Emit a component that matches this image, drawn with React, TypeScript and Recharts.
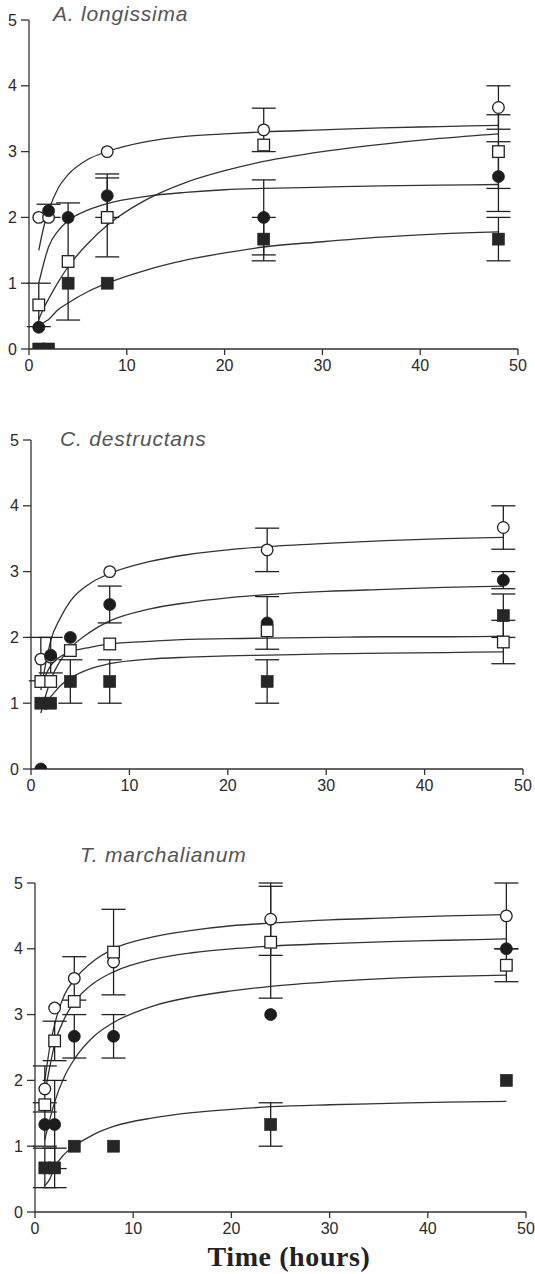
import React from 'react';
import { ComposedChart, Line, Scatter, XAxis, YAxis, ErrorBar } from 'recharts';

// ---- shared axes / categories ----
const times = [1, 2, 4, 8, 24, 48];
const fitTimes = [1, 1.5, 2, 3, 4, 6, 8, 12, 16, 20, 24, 30, 36, 42, 48];
const xTicks = [0, 10, 20, 30, 40, 50];
const yTicks = [0, 1, 2, 3, 4, 5];
const panelTitles = ['A. longissima', 'C. destructans', 'T. marchalianum'];
const xAxisTitle = 'Time (hours)';

// ---- Panel A: A. longissima ----
const aOpenCircle = [2.0, 2.0, null, 3.0, 3.33, 3.67];
const aOpenCircleErr = [0, 0, 0, 0, 0.33, 0.33];
const aFilledCircle = [0.33, 2.1, 2.0, 2.33, 2.0, 2.62];
const aFilledCircleErr = [0, 0.1, 0, 0.33, 0.57, 0.53];
const aOpenSquare = [0.67, null, 1.33, 2.0, 3.1, 3.0];
const aOpenSquareErr = [0.33, 0, 0.89, 0.6, 0, 0.56];
const aFilledSquare = [0, 0, 1.0, 1.0, 1.67, 1.67];
const aFilledSquareErr = [0, 0, 0, 0, 0.33, 0.33];
const aOpenCircleFit = [1.5, 1.85, 2.1, 2.45, 2.65, 2.88, 3.0, 3.15, 3.23, 3.27, 3.3, 3.33, 3.36, 3.38, 3.4];
const aFilledCircleFit = [1.0, 1.3, 1.55, 1.8, 1.95, 2.11, 2.21, 2.32, 2.38, 2.42, 2.44, 2.46, 2.48, 2.49, 2.5];
const aOpenSquareFit = [0.45, 0.62, 0.76, 1.02, 1.25, 1.6, 1.88, 2.27, 2.53, 2.71, 2.85, 3.0, 3.11, 3.2, 3.27];
const aFilledSquareFit = [0.33, 0.4, 0.45, 0.6, 0.7, 0.87, 1.0, 1.2, 1.35, 1.46, 1.55, 1.63, 1.7, 1.75, 1.78];

// ---- Panel B: C. destructans ----
const bOpenCircle = [1.67, 1.7, null, 3.0, 3.33, 3.67];
const bOpenCircleErr = [0.33, 0, 0, 0, 0.33, 0.33];
const bFilledCircle = [0, 1.73, 2.0, 2.5, 2.22, 2.87];
const bFilledCircleErr = [0, 0.27, 0, 0.28, 0.4, 0.13];
const bOpenSquare = [1.33, 1.33, 1.8, 1.9, 2.1, 1.93];
const bOpenSquareErr = [0, 0, 0, 0, 0, 0.33];
const bFilledSquare = [1.0, 1.0, 1.33, 1.33, 1.33, 2.33];
const bFilledSquareErr = [0, 0, 0.33, 0.33, 0.33, 0.33];
const bOpenCircleFit = [1.2, 1.6, 1.95, 2.3, 2.55, 2.82, 2.97, 3.15, 3.26, 3.33, 3.38, 3.43, 3.47, 3.5, 3.52];
const bFilledCircleFit = [0.85, 1.12, 1.35, 1.65, 1.84, 2.08, 2.25, 2.43, 2.53, 2.6, 2.65, 2.7, 2.73, 2.76, 2.78];
const bOpenSquareFit = [1.25, 1.43, 1.57, 1.71, 1.78, 1.85, 1.9, 1.94, 1.97, 1.98, 1.99, 2.0, 2.01, 2.01, 2.02];
const bFilledSquareFit = [0.95, 1.03, 1.1, 1.27, 1.38, 1.52, 1.6, 1.67, 1.7, 1.72, 1.73, 1.75, 1.76, 1.77, 1.78];

// ---- Panel C: T. marchalianum ----
const cOpenCircle = [1.87, 3.1, 3.55, 3.8, 4.45, 4.5];
const cOpenCircleErr = [0.35, 0, 0.33, 0, 0.55, 0.5];
const cFilledCircle = [1.33, 1.33, 2.67, 2.67, 3.0, 4.0];
const cFilledCircleErr = [0.33, 0.67, 0.33, 0.33, 0, 0];
const cOpenSquare = [1.63, 2.6, 3.2, 3.95, 4.1, 3.75];
const cOpenSquareErr = [0, 0.3, 0, 0.65, 0.85, 0.25];
const cFilledSquare = [0.67, 0.67, 1.0, 1.0, 1.33, 2.0];
const cFilledSquareErr = [0.3, 0.3, 0, 0, 0.33, 0];
const cOpenCircleFit = [2.0, 2.5, 2.85, 3.3, 3.53, 3.82, 4.0, 4.18, 4.28, 4.35, 4.39, 4.44, 4.47, 4.5, 4.52];
const cFilledCircleFit = [1.1, 1.4, 1.67, 2.06, 2.32, 2.67, 2.88, 3.13, 3.27, 3.36, 3.43, 3.5, 3.55, 3.58, 3.6];
const cOpenSquareFit = [1.8, 2.2, 2.55, 2.94, 3.19, 3.48, 3.65, 3.84, 3.94, 4.0, 4.04, 4.08, 4.11, 4.13, 4.15];
const cFilledSquareFit = [0.4, 0.5, 0.68, 0.88, 1.0, 1.18, 1.3, 1.43, 1.51, 1.56, 1.6, 1.63, 1.65, 1.67, 1.68];

type Kind = 'oc' | 'fc' | 'os' | 'fs';
type Series = { kind: Kind; vals: (number | null)[]; errs: number[]; fit: number[] };

const panels: { title: string; series: Series[]; box: [number, number, number, number]; titlePos: [number, number] }[] = [
  {
    title: panelTitles[0],
    box: [29, 20, 518, 349],
    titlePos: [53, 21],
    series: [
      { kind: 'oc', vals: aOpenCircle, errs: aOpenCircleErr, fit: aOpenCircleFit },
      { kind: 'fc', vals: aFilledCircle, errs: aFilledCircleErr, fit: aFilledCircleFit },
      { kind: 'os', vals: aOpenSquare, errs: aOpenSquareErr, fit: aOpenSquareFit },
      { kind: 'fs', vals: aFilledSquare, errs: aFilledSquareErr, fit: aFilledSquareFit },
    ],
  },
  {
    title: panelTitles[1],
    box: [31, 440, 523, 769],
    titlePos: [60, 446],
    series: [
      { kind: 'oc', vals: bOpenCircle, errs: bOpenCircleErr, fit: bOpenCircleFit },
      { kind: 'fc', vals: bFilledCircle, errs: bFilledCircleErr, fit: bFilledCircleFit },
      { kind: 'os', vals: bOpenSquare, errs: bOpenSquareErr, fit: bOpenSquareFit },
      { kind: 'fs', vals: bFilledSquare, errs: bFilledSquareErr, fit: bFilledSquareFit },
    ],
  },
  {
    title: panelTitles[2],
    box: [35, 883, 526, 1212],
    titlePos: [80, 862],
    series: [
      { kind: 'oc', vals: cOpenCircle, errs: cOpenCircleErr, fit: cOpenCircleFit },
      { kind: 'fc', vals: cFilledCircle, errs: cFilledCircleErr, fit: cFilledCircleFit },
      { kind: 'os', vals: cOpenSquare, errs: cOpenSquareErr, fit: cOpenSquareFit },
      { kind: 'fs', vals: cFilledSquare, errs: cFilledSquareErr, fit: cFilledSquareFit },
    ],
  },
];

const INK = '#222';
const AXIS = '#333';
const SANS = '"Liberation Sans", Arial, Helvetica, sans-serif';
const YW = 30;
const MT = 10;
const MR = 10;
const XH = 30;

const pointsOf = (s: Series) =>
  times
    .map((t, i) => ({ x: t, y: s.vals[i], e: s.errs[i] }))
    .filter((p) => p.y !== null && p.y !== undefined);

const fitOf = (s: Series) => fitTimes.map((t, i) => ({ x: t, y: s.fit[i] }));

const Blank = () => <g />;

const makeShape = (kind: Kind) => (p: any) => {
  const { cx, cy } = p;
  if (cx == null || cy == null) return <g />;
  if (kind === 'oc') return <circle cx={cx} cy={cy} r={5.8} fill="#fff" stroke={INK} strokeWidth={1.3} />;
  if (kind === 'fc') return <circle cx={cx} cy={cy} r={6} fill="#1c1c1c" stroke={INK} strokeWidth={0.8} />;
  if (kind === 'os') return <rect x={cx - 5.8} y={cy - 5.8} width={11.6} height={11.6} fill="#fff" stroke={INK} strokeWidth={1.3} />;
  return <rect x={cx - 6} y={cy - 6} width={12} height={12} fill="#262626" stroke={INK} strokeWidth={0.6} />;
};

function Panel({ p }: { p: (typeof panels)[number] }) {
  const [l, t, r, b] = p.box;
  const width = r - l + YW + MR;
  const height = b - t + MT + XH;
  const tickStyle = { fill: '#2a2a2a', fontSize: 16, fontFamily: SANS };
  return (
    <div style={{ position: 'absolute', left: l - YW, top: t - MT }}>
      <ComposedChart width={width} height={height} margin={{ top: MT, right: MR, bottom: 0, left: 0 }}>
        <XAxis
          type="number"
          dataKey="x"
          domain={[0, 50]}
          ticks={xTicks}
          interval={0}
          allowDataOverflow
          height={XH}
          tickSize={6}
          tickMargin={5}
          axisLine={{ stroke: AXIS, strokeWidth: 1.3 }}
          tickLine={{ stroke: AXIS, strokeWidth: 1.3 }}
          tick={tickStyle}
        />
        <YAxis
          type="number"
          dataKey="y"
          domain={[0, 5]}
          ticks={yTicks}
          interval={0}
          allowDataOverflow
          width={YW}
          tickSize={8}
          tickMargin={4}
          axisLine={{ stroke: AXIS, strokeWidth: 1.3 }}
          tickLine={{ stroke: AXIS, strokeWidth: 1.3 }}
          tick={tickStyle}
        />
        {p.series.map((s) => (
          <Line
            key={'fit-' + s.kind}
            data={fitOf(s)}
            dataKey="y"
            type="monotone"
            dot={false}
            activeDot={false}
            stroke={AXIS}
            strokeWidth={1.3}
            isAnimationActive={false}
          />
        ))}
        {p.series.map((s) => (
          <Scatter
            key={'err-' + s.kind}
            data={pointsOf(s).filter((q) => q.e > 0)}
            dataKey="y"
            shape={Blank}
            isAnimationActive={false}
          >
            <ErrorBar dataKey="e" direction="y" width={12} stroke={INK} strokeWidth={1.3} />
          </Scatter>
        ))}
        {p.series.map((s) => (
          <Scatter
            key={'pts-' + s.kind}
            data={pointsOf(s)}
            dataKey="y"
            shape={makeShape(s.kind)}
            isAnimationActive={false}
          />
        ))}
      </ComposedChart>
    </div>
  );
}

export default function App() {
  return (
    <div style={{ position: 'absolute', left: 0, top: 0, width: 535, height: 1274, background: '#fff', overflow: 'hidden' }}>
      {panels.map((p, i) => (
        <Panel key={i} p={p} />
      ))}
      <svg width={535} height={1274} style={{ position: 'absolute', left: 0, top: 0, pointerEvents: 'none' }}>
        {panels.map((p, i) => (
          <text
            key={i}
            x={p.titlePos[0]}
            y={p.titlePos[1]}
            fontFamily={SANS}
            fontStyle="italic"
            fontSize={21}
            letterSpacing={0.8}
            fill="#555"
          >
            {p.title}
          </text>
        ))}
        <text x={289} y={1266} textAnchor="middle" fontFamily='"Liberation Serif", "Times New Roman", serif' fontWeight="bold" fontSize={28} letterSpacing={0.6} fill="#222">
          {xAxisTitle}
        </text>
      </svg>
    </div>
  );
}
